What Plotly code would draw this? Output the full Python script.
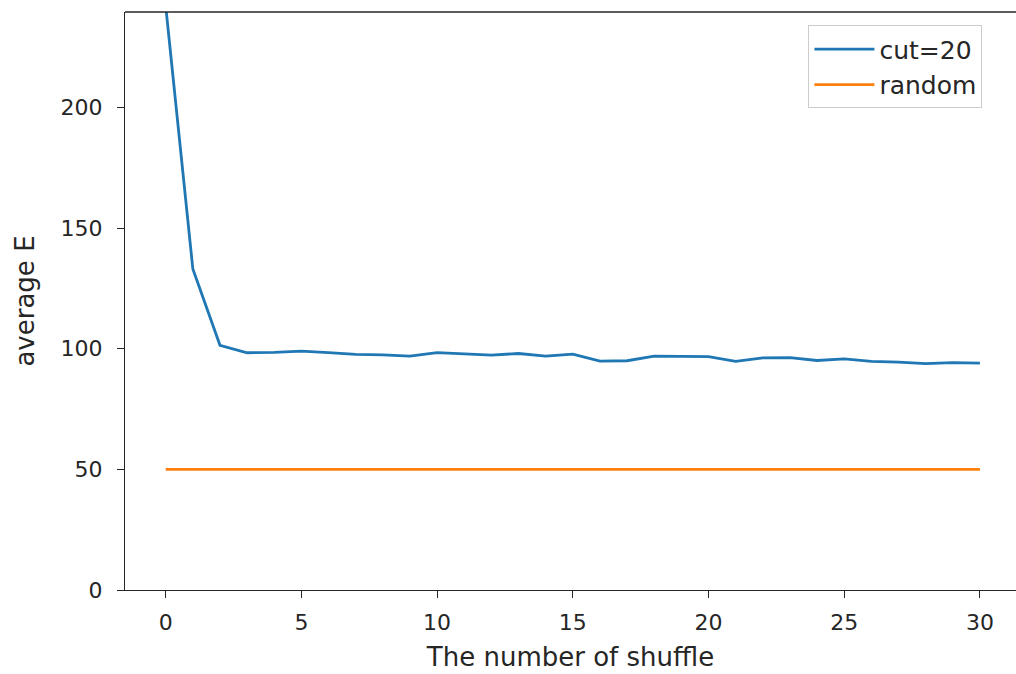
import plotly.graph_objects as go

shuffles = list(range(31))
cut20 = [242, 133, 101.4, 98.3, 98.5, 99.0, 98.4, 97.6, 97.4, 96.9,
         98.4, 97.9, 97.3, 98.0, 96.9, 97.7, 94.8, 95.0, 96.9, 96.8,
         96.7, 94.7, 96.2, 96.3, 95.1, 95.8, 94.7, 94.4, 93.8, 94.2, 94.0]
random_vals = [50] * 31
x_ticks = [0, 5, 10, 15, 20, 25, 30]
y_ticks = [0, 50, 100, 150, 200]

font = dict(family="DejaVu Sans", size=26, color="#262626")
tickfont = dict(family="DejaVu Sans", size=22, color="#262626")

fig = go.Figure()
fig.add_trace(go.Scatter(x=shuffles, y=cut20, mode="lines", name="cut=20",
                         line=dict(color="#1f77b4", width=2.8)))
fig.add_trace(go.Scatter(x=shuffles, y=random_vals, mode="lines", name="random",
                         line=dict(color="#ff7f0e", width=2.8)))

fig.update_layout(
    width=1016, height=674,
    margin=dict(l=125, r=0, t=12, b=84),
    paper_bgcolor="white", plot_bgcolor="white",
    font=font,
    showlegend=True,
    legend=dict(x=0.767, y=0.977, xanchor="left", yanchor="top",
                bgcolor="white", bordercolor="#cccccc", borderwidth=1,
                font=dict(family="DejaVu Sans", size=25, color="#262626"),
                itemwidth=60, tracegroupgap=4),
    xaxis=dict(range=[-1.5, 31.33], tickvals=x_ticks, showgrid=False, zeroline=False,
               showline=True, linecolor="#262626", linewidth=1.3,
               ticks="outside", ticklen=7, tickcolor="#262626", tickwidth=1.2,
               tickfont=tickfont, ticklabelstandoff=5,
               title=dict(text="The number of shuffle", standoff=14, font=font)),
    yaxis=dict(range=[0, 239.5], tickvals=y_ticks, showgrid=False, zeroline=False,
               showline=True, linecolor="#262626", linewidth=1.3,
               ticks="outside", ticklen=7, tickcolor="#262626", tickwidth=1.2,
               tickfont=tickfont, ticklabelstandoff=10,
               title=dict(text="average E", standoff=18, font=font)),
)
fig.add_shape(type="line", xref="paper", yref="paper", x0=0, x1=1, y0=1, y1=1,
              line=dict(color="#262626", width=1.3))

fig.write_html("out.html")
